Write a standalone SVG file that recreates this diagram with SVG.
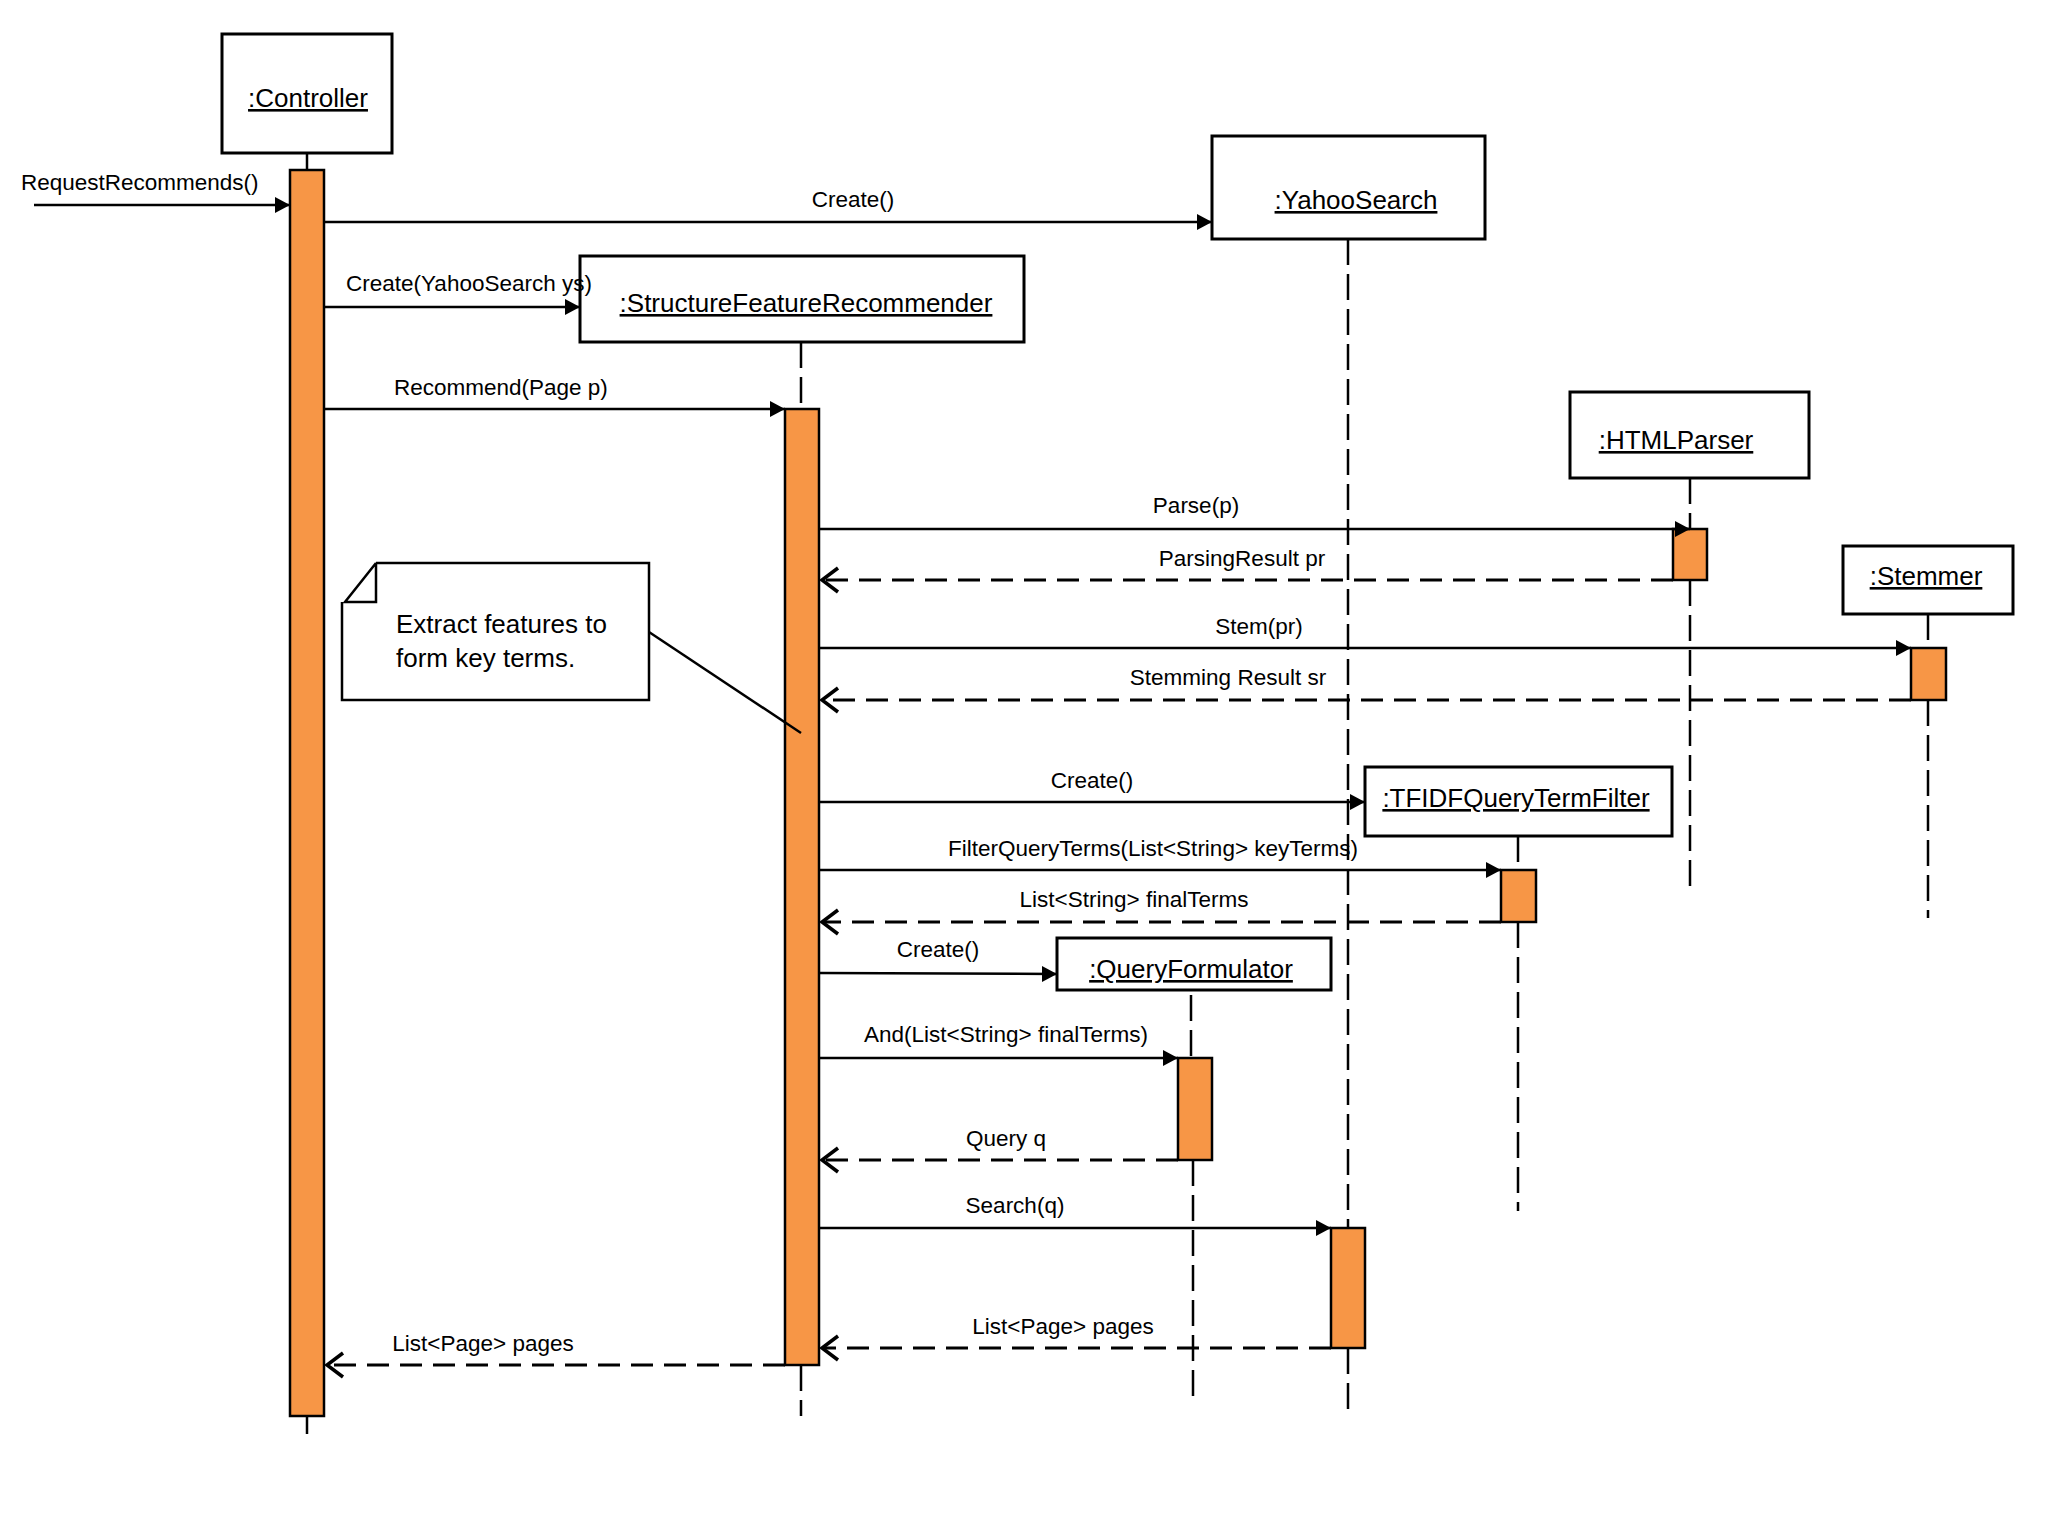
<svg xmlns="http://www.w3.org/2000/svg" width="2048" height="1536" viewBox="0 0 2048 1536">
<style>
.box{fill:#fff;stroke:#000;stroke-width:3}
.act{fill:#F79646;stroke:#000;stroke-width:2.5}
.life{stroke:#000;stroke-width:2.5;stroke-dasharray:26 9;fill:none}
.msg{stroke:#000;stroke-width:2.5;fill:none}
.ret{stroke:#000;stroke-width:3;stroke-dasharray:22 11;fill:none}
.lbl{font-family:"Liberation Sans",Arial,sans-serif;font-size:22.5px;fill:#000}
.obj{font-family:"Liberation Sans",Arial,sans-serif;font-size:26px;fill:#000;text-decoration:underline;text-anchor:middle}
.note{font-family:"Liberation Sans",Arial,sans-serif;font-size:26px;fill:#000}
</style>
<defs>
<marker id="solid" markerWidth="16" markerHeight="18" refX="15" refY="9" orient="auto" markerUnits="userSpaceOnUse">
<path d="M0,1 L15,9 L0,17 z" fill="#000"/>
</marker>
<marker id="open" markerWidth="22" markerHeight="30" refX="19" refY="15" orient="auto" markerUnits="userSpaceOnUse">
<path d="M3,3 L19,15 L3,27" fill="none" stroke="#000" stroke-width="3.5"/>
</marker>
</defs>
<rect width="2048" height="1536" fill="#fff"/>

<g id="lifelines">
<line class="msg" x1="307" y1="153" x2="307" y2="170"/>
<line class="life" x1="307" y1="1416" x2="307" y2="1434"/>
<line class="life" x1="1348" y1="239" x2="1348" y2="1228"/>
<line class="life" x1="1348" y1="1348" x2="1348" y2="1416"/>
<line class="life" x1="801" y1="342" x2="801" y2="409"/>
<line class="life" x1="801" y1="1365" x2="801" y2="1416"/>
<line class="life" x1="1690" y1="478" x2="1690" y2="529"/>
<line class="life" x1="1690" y1="580" x2="1690" y2="888"/>
<line class="life" x1="1928" y1="614" x2="1928" y2="648"/>
<line class="life" x1="1928" y1="700" x2="1928" y2="918"/>
<line class="life" x1="1518" y1="836" x2="1518" y2="870"/>
<line class="life" x1="1518" y1="922" x2="1518" y2="1211"/>
<line class="life" x1="1191" y1="995" x2="1191" y2="1058"/>
<line class="life" x1="1193" y1="1160" x2="1193" y2="1397"/>
</g>

<g id="controller">
<rect class="box" x="222" y="34" width="170" height="119"/>
<text class="obj" x="308" y="107">:Controller</text>
<rect class="act" x="290" y="170" width="34" height="1246"/>
</g>

<g id="yahoosearch">
<rect class="box" x="1212" y="136" width="273" height="103"/>
<text class="obj" x="1356" y="209">:YahooSearch</text>
<rect class="act" x="1331" y="1228" width="34" height="120"/>
</g>

<g id="structurefeaturerecommender">
<rect class="box" x="580" y="256" width="444" height="86"/>
<text class="obj" x="806" y="312">:StructureFeatureRecommender</text>
<rect class="act" x="785" y="409" width="34" height="956"/>
</g>

<g id="htmlparser">
<rect class="box" x="1570" y="392" width="239" height="86"/>
<text class="obj" x="1676" y="449">:HTMLParser</text>
<rect class="act" x="1673" y="529" width="34" height="51"/>
</g>

<g id="stemmer">
<rect class="box" x="1843" y="546" width="170" height="68"/>
<text class="obj" x="1926" y="585">:Stemmer</text>
<rect class="act" x="1911" y="648" width="35" height="52"/>
</g>

<g id="tfidfquerytermfilter">
<rect class="box" x="1365" y="767" width="307" height="69"/>
<text class="obj" x="1516" y="807">:TFIDFQueryTermFilter</text>
<rect class="act" x="1501" y="870" width="35" height="52"/>
</g>

<g id="queryformulator">
<rect class="box" x="1057" y="938" width="274" height="52"/>
<text class="obj" x="1191" y="978">:QueryFormulator</text>
<rect class="act" x="1178" y="1058" width="34" height="102"/>
</g>

<g id="note">
<path class="msg" d="M376,563 L649,563 L649,700 L342,700 L342,602"/>
<path class="msg" d="M376,563 L376,602 L345,602 L376,563"/>
<text class="note" x="396" y="633">Extract features to</text>
<text class="note" x="396" y="667">form key terms.</text>
</g>

<g id="connectors">
<line class="msg" x1="34" y1="205" x2="290" y2="205" marker-end="url(#solid)"/>
<line class="msg" x1="324" y1="222" x2="1212" y2="222" marker-end="url(#solid)"/>
<line class="msg" x1="324" y1="307" x2="580" y2="307" marker-end="url(#solid)"/>
<line class="msg" x1="324" y1="409" x2="785" y2="409" marker-end="url(#solid)"/>
<line class="msg" x1="819" y1="529" x2="1690" y2="529" marker-end="url(#solid)"/>
<line class="ret" x1="1673" y1="580" x2="822" y2="580" marker-end="url(#open)"/>
<line class="msg" x1="819" y1="648" x2="1911" y2="648" marker-end="url(#solid)"/>
<line class="ret" x1="1911" y1="700" x2="822" y2="700" marker-end="url(#open)"/>
<line class="msg" x1="649" y1="632" x2="801" y2="733"/>
<line class="msg" x1="819" y1="802" x2="1365" y2="802" marker-end="url(#solid)"/>
<line class="msg" x1="819" y1="870" x2="1501" y2="870" marker-end="url(#solid)"/>
<line class="ret" x1="1501" y1="922" x2="822" y2="922" marker-end="url(#open)"/>
<line class="msg" x1="819" y1="973" x2="1057" y2="974" marker-end="url(#solid)"/>
<line class="msg" x1="819" y1="1058" x2="1178" y2="1058" marker-end="url(#solid)"/>
<line class="ret" x1="1178" y1="1160" x2="822" y2="1160" marker-end="url(#open)"/>
<line class="msg" x1="819" y1="1228" x2="1331" y2="1228" marker-end="url(#solid)"/>
<line class="ret" x1="1331" y1="1348" x2="822" y2="1348" marker-end="url(#open)"/>
<line class="ret" x1="785" y1="1365" x2="327" y2="1365" marker-end="url(#open)"/>

<text class="lbl" x="21" y="190">RequestRecommends()</text>
<text class="lbl" x="853" y="207" text-anchor="middle">Create()</text>
<text class="lbl" x="346" y="291">Create(YahooSearch ys)</text>
<text class="lbl" x="394" y="395">Recommend(Page p)</text>
<text class="lbl" x="1196" y="513" text-anchor="middle">Parse(p)</text>
<text class="lbl" x="1242" y="566" text-anchor="middle">ParsingResult pr</text>
<text class="lbl" x="1259" y="634" text-anchor="middle">Stem(pr)</text>
<text class="lbl" x="1228" y="685" text-anchor="middle">Stemming Result sr</text>
<text class="lbl" x="1092" y="788" text-anchor="middle">Create()</text>
<text class="lbl" x="1153" y="856" text-anchor="middle">FilterQueryTerms(List&lt;String&gt; keyTerms)</text>
<text class="lbl" x="1134" y="907" text-anchor="middle">List&lt;String&gt; finalTerms</text>
<text class="lbl" x="938" y="957" text-anchor="middle">Create()</text>
<text class="lbl" x="1006" y="1042" text-anchor="middle">And(List&lt;String&gt; finalTerms)</text>
<text class="lbl" x="1006" y="1146" text-anchor="middle">Query q</text>
<text class="lbl" x="1015" y="1213" text-anchor="middle">Search(q)</text>
<text class="lbl" x="1063" y="1334" text-anchor="middle">List&lt;Page&gt; pages</text>
<text class="lbl" x="483" y="1351" text-anchor="middle">List&lt;Page&gt; pages</text>
</g>
</svg>
